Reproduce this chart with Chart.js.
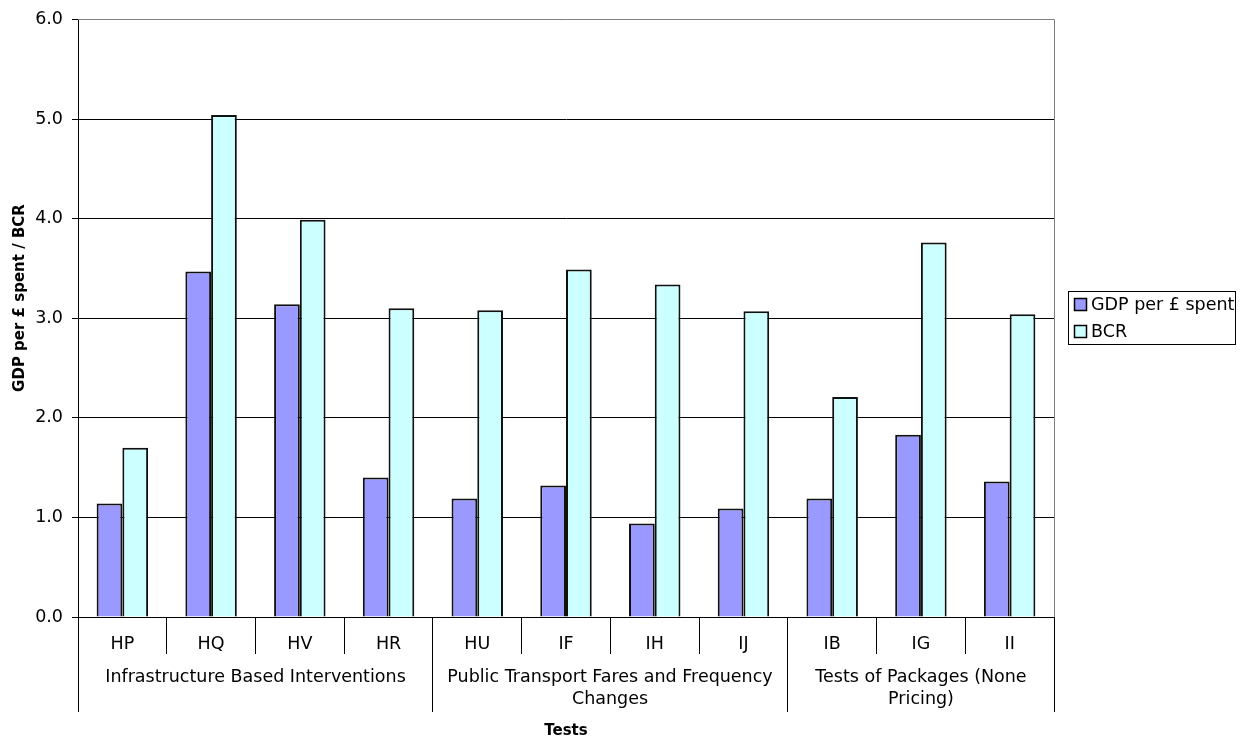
<!DOCTYPE html>
<html>
<head>
<meta charset="utf-8">
<title>GDP per £ spent and BCR by test</title>
<script src="https://cdn.jsdelivr.net/npm/chart.js@4.4.1/dist/chart.umd.min.js"></script>
<style>
  html, body { margin: 0; padding: 0; background: #fff; }
  #wrap { width: 1246px; height: 742px; position: relative; }
</style>
</head>
<body>
<div id="wrap"><canvas id="c" width="1246" height="742"></canvas></div>
<script>
// ---- data ----
const tests = ['HP', 'HQ', 'HV', 'HR', 'HU', 'IF', 'IH', 'IJ', 'IB', 'IG', 'II'];
const gdpPerPound = [1.14, 3.47, 3.14, 1.40, 1.19, 1.32, 0.94, 1.09, 1.19, 1.83, 1.36];
const bcr = [1.70, 5.04, 3.99, 3.10, 3.08, 3.49, 3.34, 3.07, 2.21, 3.76, 3.04];
const groupNames = [
  ['Infrastructure Based Interventions'],
  ['Public Transport Fares and Frequency', 'Changes'],
  ['Tests of Packages (None', 'Pricing)']
];
const groupSizes = [4, 4, 3];
const yTicks = [0, 1, 2, 3, 4, 5, 6];
const seriesNames = ['GDP per £ spent', 'BCR'];
const yTitle = 'GDP per £ spent / BCR';
const xTitle = 'Tests';

// ---- styling ----
const FAMILY = '"DejaVu Sans", Verdana, sans-serif';
const LABEL_SIZE = 17.5;
const TITLE_FONT = 'bold 15px ' + FAMILY;

// same half-pixel snapping Chart.js uses for 1px lines
const snap = p => Math.round(p - 0.5) + 0.5;

// Draws the frame, the two-level category axis, axis titles and the legend box.
const decor = {
  id: 'decor',
  afterDatasetsDraw(chart) {
    const { ctx, chartArea: a, scales: { y } } = chart;
    const top = snap(y.getPixelForValue(yTicks[yTicks.length - 1]));
    const right = snap(a.right);
    ctx.save();
    ctx.strokeStyle = '#fff';
    ctx.lineWidth = 1;
    ctx.beginPath();
    ctx.moveTo(a.left + 1, top);
    ctx.lineTo(right, top);
    ctx.stroke();
    ctx.strokeStyle = '#808080';
    ctx.beginPath();
    ctx.moveTo(a.left, top);
    ctx.lineTo(right, top);
    ctx.lineTo(right, a.bottom);
    ctx.stroke();
    ctx.restore();
  },
  afterDraw(chart) {
    const { ctx, chartArea: a, scales: { x } } = chart;
    const step = x.getPixelForValue(1) - x.getPixelForValue(0);
    const edge = i => snap(x.getPixelForValue(i) - step / 2);
    const base = Math.round(a.bottom);

    // group boundaries (category index where each group starts, plus the end)
    const bounds = [0];
    groupSizes.forEach(n => bounds.push(bounds[bounds.length - 1] + n));

    ctx.save();
    ctx.strokeStyle = '#000';
    ctx.lineWidth = 1;
    ctx.beginPath();
    for (let i = 0; i <= tests.length; i++) {
      const long = bounds.includes(i);
      ctx.moveTo(edge(i), base);
      ctx.lineTo(edge(i), long ? base + 95 : base + 37);
    }
    ctx.stroke();

    // group labels
    ctx.fillStyle = '#000';
    ctx.font = LABEL_SIZE + 'px ' + FAMILY;
    ctx.textAlign = 'center';
    ctx.textBaseline = 'middle';
    groupNames.forEach((lines, g) => {
      const cx = (edge(bounds[g]) + edge(bounds[g + 1])) / 2;
      lines.forEach((t, k) => ctx.fillText(t, cx, base + 60 + k * 22));
    });

    // axis titles
    ctx.font = TITLE_FONT;
    ctx.fillText(xTitle, (a.left + a.right) / 2, 731);
    ctx.save();
    ctx.translate(20, 298);
    ctx.rotate(-Math.PI / 2);
    ctx.fillText(yTitle, 0, 0);
    ctx.restore();

    // legend
    const lx = 1068, ly = 291, lw = 167, lh = 53;
    ctx.strokeRect(lx + 0.5, ly + 0.5, lw, lh);
    ctx.font = LABEL_SIZE + 'px ' + FAMILY;
    ctx.textAlign = 'left';
    chart.data.datasets.forEach((ds, i) => {
      const cy = ly + 13 + i * 27;
      ctx.fillStyle = ds.backgroundColor;
      ctx.fillRect(lx + 6, cy - 6, 12, 12);
      ctx.lineWidth = 1.5;
      ctx.strokeRect(lx + 6.5, cy - 5.5, 12, 12);
      ctx.fillStyle = '#000';
      ctx.fillText(ds.label, lx + 23, cy + 1);
    });
    ctx.restore();
  }
};

new Chart(document.getElementById('c'), {
  type: 'bar',
  data: {
    labels: tests,
    datasets: [
      { label: seriesNames[0], data: gdpPerPound, backgroundColor: '#9999FF' },
      { label: seriesNames[1], data: bcr, backgroundColor: '#CCFFFF' }
    ]
  },
  options: {
    responsive: false,
    animation: false,
    events: [],
    layout: { padding: { top: 18, right: 192, left: 0, bottom: 0 } },
    datasets: {
      bar: {
        barPercentage: 1,
        categoryPercentage: 0.58,
        borderColor: '#111',
        borderWidth: 2
      }
    },
    plugins: {
      legend: { display: false },
      tooltip: { enabled: false }
    },
    scales: {
      x: {
        type: 'category',
        offset: true,
        grid: { display: false, drawTicks: false },
        border: { display: true, color: '#000', width: 1 },
        ticks: {
          color: '#000',
          font: { family: FAMILY, size: LABEL_SIZE },
          padding: 17,
          maxRotation: 0,
          autoSkip: false
        },
        afterFit: s => { s.height = 125; }
      },
      y: {
        min: 0,
        max: 6,
        afterBuildTicks: s => { s.ticks = yTicks.map(v => ({ value: v })); },
        ticks: {
          color: '#000',
          font: { family: FAMILY, size: LABEL_SIZE },
          padding: 9,
          callback: v => Number(v).toFixed(1)
        },
        grid: { color: '#000', lineWidth: 1, tickLength: 6, drawTicks: true },
        border: { display: true, color: '#000', width: 1 },
        afterFit: s => { s.width = 78; }
      }
    }
  },
  plugins: [decor]
});
</script>
</body>
</html>
